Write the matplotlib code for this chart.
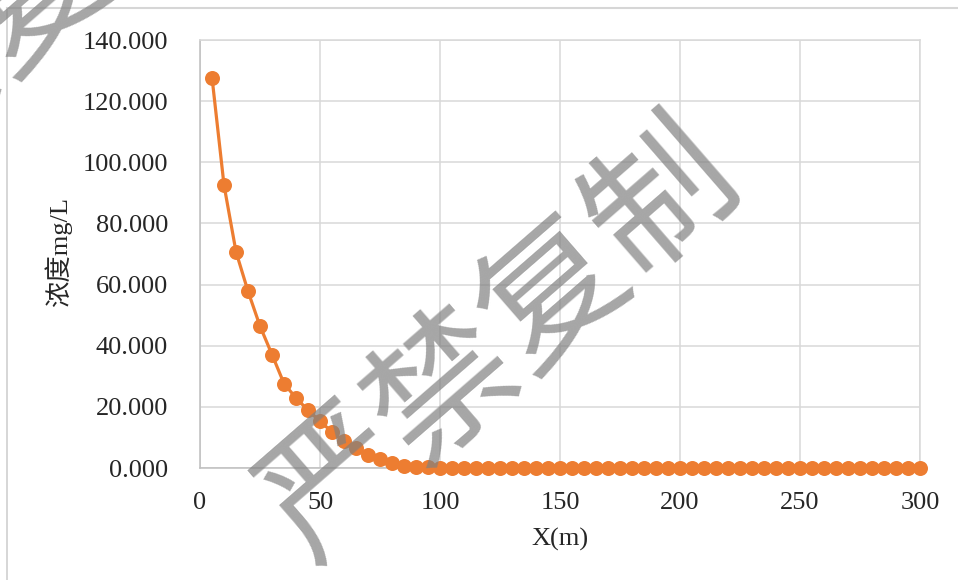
import matplotlib
matplotlib.use("Agg")
import matplotlib.pyplot as plt
from matplotlib.lines import Line2D

# ---- data ----
distance_m = [5, 10, 15, 20, 25, 30, 35, 40, 45, 50,
              55, 60, 65, 70, 75, 80, 85, 90, 95, 100,
              105, 110, 115, 120, 125, 130, 135, 140, 145, 150,
              155, 160, 165, 170, 175, 180, 185, 190, 195, 200,
              205, 210, 215, 220, 225, 230, 235, 240, 245, 250,
              255, 260, 265, 270, 275, 280, 285, 290, 295, 300]
concentration = [127.7, 92.5, 70.7, 57.8, 46.4, 37.1, 27.6, 22.9, 18.9, 15.3,
                 11.8, 8.7, 6.4, 4.4, 2.8, 1.6, 0.8, 0.4, 0.2, 0.1,
                 0.0, 0.0, 0.0, 0.0, 0.0, 0.0, 0.0, 0.0, 0.0, 0.0,
                 0.0, 0.0, 0.0, 0.0, 0.0, 0.0, 0.0, 0.0, 0.0, 0.0,
                 0.0, 0.0, 0.0, 0.0, 0.0, 0.0, 0.0, 0.0, 0.0, 0.0,
                 0.0, 0.0, 0.0, 0.0, 0.0, 0.0, 0.0, 0.0, 0.0, 0.0]
x_ticks = [0, 50, 100, 150, 200, 250, 300]
y_ticks = [0, 20, 40, 60, 80, 100, 120, 140]
y_ticklabels = ["0.000", "20.000", "40.000", "60.000", "80.000",
                "100.000", "120.000", "140.000"]
x_label = "X(m)"
y_label = "浓度mg/L"
watermark = "严禁复制"

serif = ["Liberation Serif", "Noto Sans CJK SC", "DejaVu Serif"]
FS = 19

fig = plt.figure(figsize=(9.58, 5.8), dpi=100)
fig.patch.set_facecolor("white")
ax = fig.add_axes([0.2088, 0.1931, 0.7515, 0.7379])

ax.plot(distance_m, concentration, color="#ED7D31", lw=2.3,
        marker="o", markersize=10.8, markeredgewidth=0, zorder=3, clip_on=False)

ax.set_xlim(0, 300)
ax.set_ylim(0, 140)
ax.set_xticks(x_ticks)
ax.set_yticks(y_ticks)
ax.set_xticklabels([str(t) for t in x_ticks], family=serif, fontsize=FS, color="#262626")
ax.set_yticklabels(y_ticklabels, family=serif, fontsize=FS, color="#262626")
ax.tick_params(axis="both", length=0)
ax.tick_params(axis="x", pad=17)
ax.tick_params(axis="y", pad=23)
ax.grid(True, color="#d9d9d9", lw=1.1, zorder=0)
ax.set_axisbelow(True)
for side in ["top", "right"]:
    ax.spines[side].set_color("#d9d9d9")
    ax.spines[side].set_linewidth(1.1)
for side in ["left", "bottom"]:
    ax.spines[side].set_color("#bfbfbf")
    ax.spines[side].set_linewidth(1.1)

ax.set_xlabel(x_label, family=serif, fontsize=FS, color="#262626", labelpad=10)
fig.text(58 / 958, 1 - 252 / 580, y_label, family=serif, fontsize=FS,
         color="#262626", rotation=90, ha="center", va="center")

# outer frame lines of the original screenshot
fig.add_artist(Line2D([7 / 958, 7 / 958], [0, 1 - 8 / 580], color="#cfcfcf", lw=1.2))
fig.add_artist(Line2D([7 / 958, 1], [1 - 8 / 580, 1 - 8 / 580], color="#d6d6d6", lw=1.5))

# watermarks
wm_kw = dict(family=["Noto Sans CJK SC", "DejaVu Sans"], fontsize=104, color="#808080",
             alpha=0.7, rotation=41, ha="center", va="center", rotation_mode="anchor",
             zorder=10)
fig.text(500 / 958, 1 - 342 / 580, watermark, **wm_kw)
fig.text(-20 / 958, 1 - 45 / 580, watermark, **wm_kw)

fig.savefig("out.png", dpi=100, facecolor="white")
